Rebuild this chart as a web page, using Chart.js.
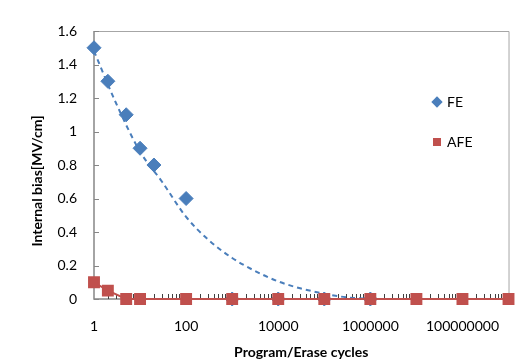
<!DOCTYPE html>
<html><head><meta charset="utf-8">
<script src="https://cdn.jsdelivr.net/npm/chart.js@4"></script>
<style>
html,body{margin:0;padding:0;background:#fff;}
#wrap{position:relative;width:519px;height:363px;overflow:hidden;}
canvas{display:block;}
.item{position:absolute;font:14px Lato, "Open Sans", sans-serif;color:#000;line-height:16px;white-space:nowrap;}
.mk{position:absolute;}
</style></head><body>
<div id="wrap"><canvas id="c" width="519" height="363"></canvas><div id="legend"></div></div>
<script>
// ---- data ----
const seriesNames = ['FE', 'AFE'];
const feCycles = [1, 2, 5, 10, 20, 100, 1000, 10000, 100000, 1000000];
const feValues = [1.5, 1.3, 1.1, 0.9, 0.8, 0.6, 0, 0, 0, 0];
const afeCycles = [1, 2, 5, 10, 100, 1000, 10000, 100000, 1000000, 10000000, 100000000, 1000000000];
const afeValues = [0.1, 0.05, 0, 0, 0, 0, 0, 0, 0, 0, 0, 0];
// dashed trend line of FE
const trendCycles = [1, 3, 10, 30, 100, 300, 1000, 3000, 10000, 30000, 100000, 300000, 1000000];
const trendValues = [1.48, 1.17, 0.88, 0.70, 0.49, 0.355, 0.245, 0.17, 0.105, 0.064, 0.032, 0.01, 0];
const xTickValues = [1, 100, 10000, 1000000, 100000000];
const yTickValues = [0, 0.2, 0.4, 0.6, 0.8, 1, 1.2, 1.4, 1.6];
const minorMultiples = [2, 3, 4, 5, 6, 7, 8, 9];

const BLUE = '#4A7EBB', RED = '#C0504D';
const FONT = 'Lato, "Open Sans", sans-serif';

function pts(xs, ys) { return xs.map((x, i) => ({ x: x, y: ys[i] })); }

const axisPlugin = {
  id: 'axisDecor',
  beforeDatasetsDraw(chart) {
    const { ctx, chartArea: a, scales: { x, y } } = chart;
    ctx.save();
    ctx.strokeStyle = '#A6A6A6'; ctx.lineWidth = 1;
    ctx.beginPath();
    ctx.moveTo(a.left, a.top + 0.5); ctx.lineTo(a.right + 0.5, a.top + 0.5);
    ctx.lineTo(a.right + 0.5, a.bottom);
    ctx.stroke();
    ctx.strokeStyle = '#868686'; ctx.lineWidth = 1.5;
    ctx.beginPath();
    ctx.moveTo(a.left, a.top); ctx.lineTo(a.left, a.bottom); ctx.lineTo(a.right, a.bottom);
    ctx.stroke();
    ctx.lineWidth = 1;
    ctx.beginPath();
    yTickValues.forEach(v => { const py = Math.round(y.getPixelForValue(v)) + 0.5; ctx.moveTo(a.left, py); ctx.lineTo(a.left + 5, py); });
    ctx.stroke();
    ctx.strokeStyle = '#404040';
    ctx.beginPath();
    for (let d = 1; d < x.max; d *= 10) {
      minorMultiples.forEach(m => {
        const v = m * d; if (v > x.max) return;
        const px = Math.round(x.getPixelForValue(v)) + 0.5;
        ctx.moveTo(px, a.bottom); ctx.lineTo(px, a.bottom - 5);
      });
    }
    ctx.stroke();
    ctx.restore();
  }
};

const chart = new Chart(document.getElementById('c'), {
  type: 'scatter',
  data: {
    datasets: [
      { label: 'trend', data: pts(trendCycles, trendValues), showLine: true, borderColor: BLUE, borderWidth: 2,
        borderDash: [5, 4], pointRadius: 0, cubicInterpolationMode: 'monotone', fill: false, order: 3, clip: false },
      { label: seriesNames[0], data: pts(feCycles, feValues), showLine: false, pointStyle: 'rectRot', pointRadius: 7,
        backgroundColor: BLUE, borderColor: BLUE, borderWidth: 1, order: 2, clip: false },
      { label: seriesNames[1], data: pts(afeCycles, afeValues), showLine: true, borderColor: RED, borderWidth: 2,
        pointStyle: 'rect', pointRadius: 7, backgroundColor: RED, order: 1, clip: false }
    ]
  },
  options: {
    responsive: false, animation: false, devicePixelRatio: 1,
    layout: { padding: { top: 31, right: 3, left: 0, bottom: 0 } },
    plugins: { legend: { display: false }, tooltip: { enabled: false } },
    scales: {
      x: {
        type: 'logarithmic', min: 1, max: 1000000000,
        afterBuildTicks: s => { s.ticks = xTickValues.map(v => ({ value: v })); },
        afterFit: s => { s.height = 64; },
        grid: { display: false, drawTicks: false }, border: { display: false },
        ticks: { autoSkip: false, maxRotation: 0, padding: 19, color: '#000', font: { family: FONT, size: 14 },
          callback: v => String(v) },
        title: { display: true, text: 'Program/Erase cycles', color: '#000', font: { family: FONT, size: 14, weight: 'bold' },
          padding: { top: 0, bottom: 2 } }
      },
      y: {
        min: 0, max: 1.6,
        afterBuildTicks: s => { s.ticks = yTickValues.map(v => ({ value: v })); },
        afterFit: s => {
          s.width = 94;
          if (!s._titleShifted) {
            const orig = s.drawTitle;
            s.drawTitle = function () { const c = this.ctx; c.save(); c.translate(0, 16); orig.call(this); c.restore(); };
            s._titleShifted = true;
          }
        },
        grid: { display: false, drawTicks: false }, border: { display: false },
        ticks: { padding: 17, color: '#000', font: { family: FONT, size: 14 }, callback: v => String(+Number(v).toFixed(1)) },
        title: { display: true, text: 'Internal bias[MV/cm]', color: '#000', font: { family: FONT, size: 14, weight: 'bold' },
          padding: { top: 29, bottom: 0 } }
      }
    }
  },
  plugins: [axisPlugin]
});

const legend = document.getElementById('legend');
const legendDefs = [
  { name: seriesNames[0], color: BLUE, shape: 'diamond', cy: 102 },
  { name: seriesNames[1], color: RED, shape: 'square', cy: 142 }
];
legendDefs.forEach(d => {
  const mk = document.createElement('div');
  mk.className = 'mk';
  Object.assign(mk.style, { left: (437 - 4) + 'px', top: (d.cy - 4) + 'px', width: '8px', height: '8px', background: d.color });
  if (d.shape === 'diamond') mk.style.transform = 'rotate(45deg)';
  legend.appendChild(mk);
  const t = document.createElement('div');
  t.className = 'item';
  t.textContent = d.name;
  Object.assign(t.style, { left: '447px', top: (d.cy - 8) + 'px' });
  legend.appendChild(t);
});
</script>
</body></html>
